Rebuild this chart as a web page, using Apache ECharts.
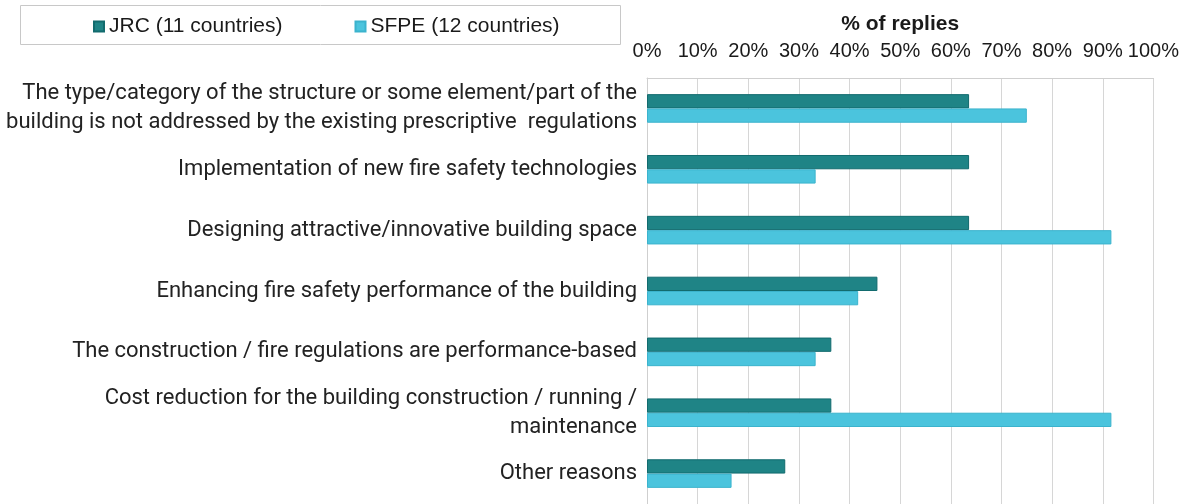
<!DOCTYPE html>
<html>
<head>
<meta charset="utf-8">
<script src="https://cdn.jsdelivr.net/npm/echarts@6/dist/echarts.min.js"></script>
<style>
  html, body { margin: 0; padding: 0; background: #fff; }
  #chart { width: 1182px; height: 504px; }
</style>
</head>
<body>
<div id="chart"></div>
<script>
const categories = [
  'The type/category of the structure or some element/part of the\nbuilding is not addressed by the existing prescriptive  regulations',
  'Implementation of new fire safety technologies',
  'Designing attractive/innovative building space',
  'Enhancing fire safety performance of the building',
  'The construction / fire regulations are performance-based',
  'Cost reduction for the building construction / running /\nmaintenance',
  'Other reasons'
]
const jrcValues = [63.6, 63.6, 63.6, 45.5, 36.4, 36.4, 27.3]
const sfpeValues = [75.0, 33.3, 91.7, 41.7, 33.3, 91.7, 16.7]
const seriesNames = ['JRC (11 countries)', 'SFPE (12 countries)']

const chart = echarts.init(document.getElementById('chart'))
const option = {
  animation: false,
  textStyle: { fontFamily: 'Liberation Sans' },
  graphic: [{
    type: 'rect',
    shape: { x: 20.5, y: 5.5, width: 600, height: 39 },
    style: { fill: 'none', stroke: '#c8c8c8', lineWidth: 1 }
  }],
  legend: {
    data: seriesNames,
    left: 88,
    top: 11,
    icon: 'rect',
    itemWidth: 10,
    itemHeight: 10,
    itemGap: 72,
    textStyle: { fontSize: 21, color: '#1a1a1a', fontFamily: 'Liberation Sans' }
  },
  grid: { left: 647, right: 28, top: 78, bottom: 0, containLabel: false },
  xAxis: {
    type: 'value',
    position: 'top',
    min: 0,
    max: 100,
    interval: 10,
    name: '% of replies',
    nameLocation: 'middle',
    nameGap: 43,
    nameTextStyle: { fontSize: 21, fontWeight: 'bold', color: '#1a1a1a' },
    axisLine: { show: true, lineStyle: { color: '#cfcfcf' } },
    axisTick: { show: false },
    axisLabel: { formatter: '{value}%', fontSize: 20, color: '#1a1a1a', margin: 17 },
    splitLine: { show: true, lineStyle: { color: '#d6d6d6', width: 1 } }
  },
  yAxis: {
    type: 'category',
    data: categories,
    inverse: true,
    axisLine: { show: true, lineStyle: { color: '#cfcfcf' } },
    axisTick: { show: false },
    axisLabel: {
      fontSize: 22,
      lineHeight: 29,
      color: '#222',
      margin: 10,
      align: 'right',
      fontFamily: 'Roboto'
    }
  },
  series: [
    {
      name: seriesNames[0],
      type: 'bar',
      data: jrcValues,
      barWidth: 14.3,
      barGap: '0%',
      itemStyle: { color: '#1f8486', borderColor: '#126b6e', borderWidth: 1 }
    },
    {
      name: seriesNames[1],
      type: 'bar',
      data: sfpeValues,
      barWidth: 14.3,
      itemStyle: { color: '#4bc4dd', borderColor: '#3bb3cd', borderWidth: 1 }
    }
  ]
}
option && chart.setOption(option)
</script>
</body>
</html>
